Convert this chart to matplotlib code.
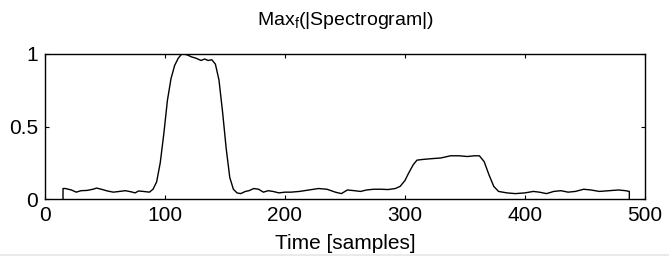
import matplotlib
matplotlib.use("Agg")
import matplotlib.pyplot as plt
from matplotlib.lines import Line2D

# samples
t = [15, 15, 17, 22, 26, 30, 35, 40, 43, 47, 52, 57, 62, 67, 72, 75, 78, 82, 87,
     90, 93, 96, 99, 102, 105, 108, 111, 114, 118, 122, 126, 130, 133, 136, 139,
     142, 145, 148, 151, 154, 157, 160, 163, 167, 170, 174, 178, 182, 186, 190,
     195, 200, 205, 212, 220, 228, 235, 242, 247, 252, 258, 263, 268, 274, 280,
     286, 292, 296, 300, 303, 307, 310, 315, 322, 330, 338, 345, 352, 358, 362,
     366, 370, 374, 378, 385, 392, 400, 407, 412, 418, 424, 430, 436, 442, 449,
     455, 462, 470, 478, 484, 487, 487]
v = [0.0, 0.075, 0.075, 0.065, 0.05, 0.06, 0.062, 0.07, 0.078, 0.07, 0.058, 0.05,
     0.055, 0.06, 0.052, 0.045, 0.058, 0.055, 0.05,
     0.07, 0.12, 0.25, 0.45, 0.68, 0.83, 0.92, 0.97, 1.0, 0.995, 0.98, 0.97, 0.955,
     0.965, 0.955, 0.96, 0.93, 0.82, 0.6, 0.35, 0.15, 0.07, 0.045, 0.04, 0.055,
     0.06, 0.075, 0.07, 0.05, 0.06, 0.055, 0.045, 0.05, 0.05, 0.055, 0.065, 0.075,
     0.07, 0.05, 0.04, 0.065, 0.06, 0.055, 0.065, 0.07, 0.07, 0.068, 0.075, 0.09,
     0.13, 0.18, 0.24, 0.27, 0.275, 0.28, 0.285, 0.3, 0.3, 0.295, 0.3, 0.3, 0.26,
     0.17, 0.09, 0.055, 0.045, 0.04, 0.045, 0.055, 0.05, 0.04, 0.055, 0.06, 0.05,
     0.055, 0.07, 0.065, 0.055, 0.06, 0.065, 0.06, 0.055, 0.0]
xticks = [0, 100, 200, 300, 400, 500]
yticks = [0, 0.5, 1]
ytick_labels = ["0", "0.5", "1"]

plt.rcParams["font.family"] = ["Liberation Sans", "DejaVu Sans"]
plt.rcParams["mathtext.default"] = "regular"

fig = plt.figure(figsize=(6.69, 2.58), dpi=100)
ax = fig.add_axes([0.0673, 0.227, 0.8967, 0.564])
ax.plot(t, v, color="black", lw=1.0)
ax.set_xlim(0, 500)
ax.set_ylim(0, 1)
ax.set_xticks(xticks)
ax.set_yticks(yticks)
ax.set_yticklabels(ytick_labels)
ax.tick_params(direction="in", top=True, right=True, labelsize=15, length=3)
ax.tick_params(axis="x", pad=5)
ax.tick_params(axis="y", pad=5)
ax.set_xlabel("Time [samples]", fontsize=15, labelpad=6)
ax.set_title("Max$_f$(|Spectrogram|)", fontsize=14, pad=21)
for s in ax.spines.values():
    s.set_linewidth(1.0)

# faint rule along the bottom edge of the image
fig.add_artist(Line2D([0, 1], [0.012, 0.012], transform=fig.transFigure,
                      color="#e6e6e6", lw=1.2))

fig.savefig("out.png", dpi=100)
